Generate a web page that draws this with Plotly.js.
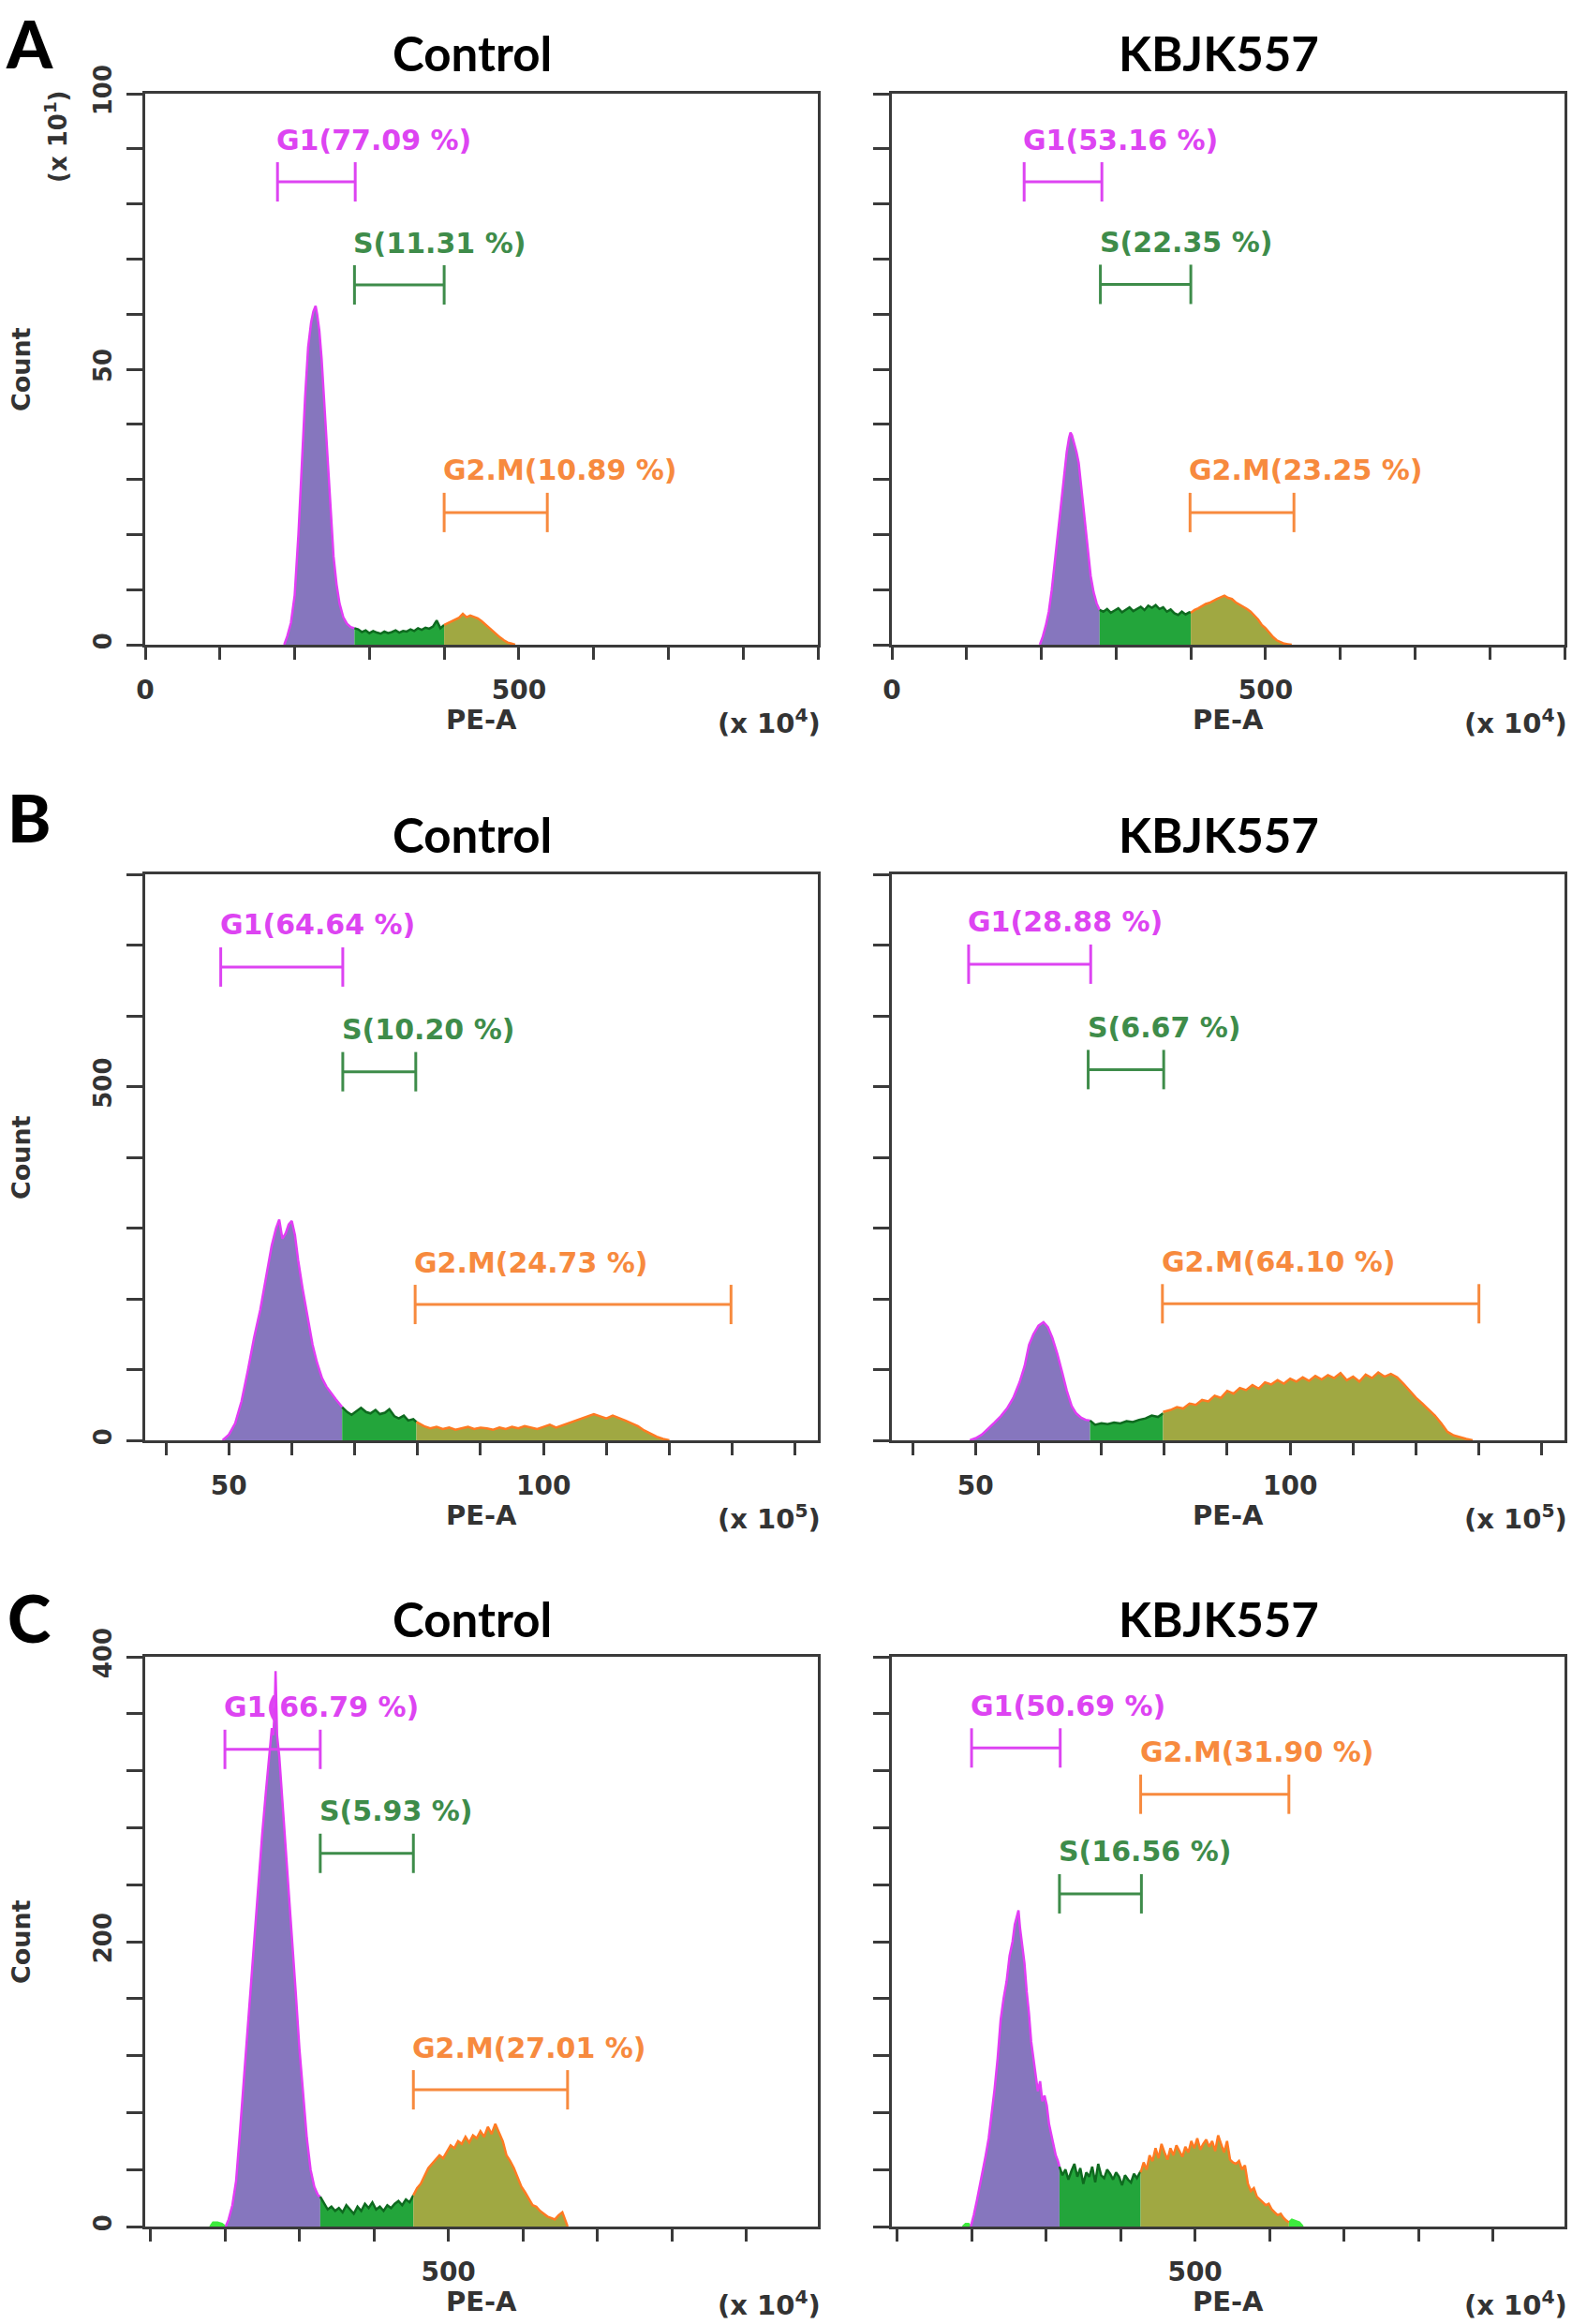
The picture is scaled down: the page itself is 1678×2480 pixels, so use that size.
<!DOCTYPE html>
<html><head><meta charset="utf-8">
<script src="https://cdn.plot.ly/plotly-3.0.1.min.js"></script>
<style>html,body{margin:0;padding:0;background:#fff}</style>
</head><body><div id="chart" style="width:1678px;height:2480px"></div>
<script>
// ---------------- DATA ----------------
const panelTitles = ['Control', 'KBJK557'];
const rowLetters = ['A', 'B', 'C'];
const gateNames = ['G1', 'S', 'G2.M'];
const xScaleLabels = ['(x 10<sup>4</sup>)', '(x 10<sup>5</sup>)', '(x 10<sup>4</sup>)'];
const yScaleLabelA = '(x 10<sup>1</sup>)';

// Row A ticks
const A_xTickVals = [0, 100, 200, 300, 400, 500, 600, 700, 800, 900];
const A_xLabelVals = [0, 500];
const A_xLabelText = ['0', '500'];
const A_yTickVals = [0, 10, 20, 30, 40, 50, 60, 70, 80, 90, 100];
const A_yLabelVals = [0, 50, 100];
const A_yLabelText = ['0', '50', '100'];
// Row B ticks
const B_xTickVals = [40, 50, 60, 70, 80, 90, 100, 110, 120, 130, 140];
const B_xLabelVals = [50, 100];
const B_xLabelText = ['50', '100'];
const B_yTickVals = [0, 100, 200, 300, 400, 500, 600, 700, 800];
const B_yLabelVals = [0, 500];
const B_yLabelText = ['0', '500'];
// Row C ticks
const C_xTickVals = [100, 200, 300, 400, 500, 600, 700, 800, 900];
const C_xLabelVals = [500];
const C_xLabelText = ['500'];
const C_yTickVals = [0, 40, 80, 120, 160, 200, 240, 280, 320, 360, 400];
const C_yLabelVals = [0, 200, 400];
const C_yLabelText = ['0', '200', '400'];

// ---- A Control ----
const aC_g1x = [186, 190, 195, 200, 205, 210, 214, 218, 222, 225, 228, 230, 233, 236, 240, 244, 248, 252, 256, 260, 265, 270, 275, 280];
const aC_g1y = [0, 1.5, 4, 9, 20, 35, 45, 54, 58.5, 60.5, 61.5, 60, 57, 52, 43, 33, 24, 16, 11, 7.5, 5, 3.8, 3.2, 3.0];
const aC_sx = [280, 285, 290, 295, 300, 305, 310, 315, 320, 325, 330, 335, 340, 345, 350, 355, 360, 365, 370, 375, 380, 385, 390, 395, 400];
const aC_sy = [3.0, 2.8, 2.3, 2.6, 2.1, 2.5, 2.2, 2.0, 2.4, 2.1, 2.3, 2.6, 2.2, 2.5, 2.4, 2.8, 2.5, 3.0, 2.7, 3.1, 2.9, 3.3, 4.4, 3.0, 3.6];
const aC_gx = [400, 405, 410, 415, 420, 425, 430, 435, 440, 445, 450, 455, 460, 465, 470, 475, 480, 485, 490, 495];
const aC_gy = [3.6, 3.9, 4.3, 4.6, 4.9, 5.6, 5.0, 5.3, 5.1, 4.8, 4.3, 3.7, 3.0, 2.4, 1.8, 1.3, 0.8, 0.4, 0.2, 0];
const aC_pct = [77.09, 11.31, 10.89];
const aC_gateStart = [177, 280, 400];
const aC_gateEnd = [281, 400, 538];
const aC_gateLevel = [84, 65.3, 24];

// ---- A KBJK557 ----
const aK_g1x = [198, 202, 206, 210, 214, 218, 222, 226, 230, 234, 237, 239, 241, 244, 247, 250, 254, 258, 262, 266, 270, 274, 278];
const aK_g1y = [0, 1.5, 3.5, 6, 10, 15, 21, 26, 31, 35, 37.5, 38.5, 38, 36.5, 35, 33, 28, 22, 17, 12.5, 9.5, 7.5, 6.3];
const aK_sx = [278, 283, 288, 293, 298, 303, 308, 313, 318, 323, 328, 333, 338, 343, 348, 353, 358, 363, 368, 373, 378, 383, 388, 393, 398, 400];
const aK_sy = [6.3, 6.0, 6.5, 5.8, 6.2, 6.6, 5.9, 6.4, 6.8, 6.1, 6.5, 6.9, 6.3, 7.1, 6.7, 7.2, 6.5, 6.8, 6.0, 6.4, 5.7, 5.4, 6.0, 5.5, 5.9, 5.8];
const aK_gx = [400, 405, 410, 415, 420, 425, 430, 435, 440, 445, 450, 455, 460, 465, 470, 475, 480, 485, 490, 495, 500, 505, 510, 515, 520, 525, 530, 535];
const aK_gy = [5.8, 6.3, 6.6, 7.0, 7.4, 7.6, 8.0, 8.3, 8.6, 8.9, 8.5, 8.3, 7.7, 7.3, 7.0, 6.5, 6.0, 5.3, 4.6, 3.6, 3.0, 2.2, 1.4, 0.8, 0.5, 0.2, 0.1, 0];
const aK_pct = [53.16, 22.35, 23.25];
const aK_gateStart = [177, 279, 399];
const aK_gateEnd = [281, 400, 538];
const aK_gateLevel = [84, 65.4, 24];

// ---- B Control ----
const bC_g1x = [49.0, 50.0, 51.0, 52.0, 53.0, 54.0, 55.0, 56.0, 56.8, 57.5, 58.0, 58.5, 59.0, 59.5, 60.0, 60.5, 61.0, 61.7, 62.5, 63.3, 64.0, 64.8, 65.5, 66.3, 67.0, 68.0];
const bC_g1y = [0, 8, 24, 55, 98, 145, 185, 235, 275, 300, 312, 285, 292, 305, 310, 290, 255, 215, 175, 135, 110, 88, 76, 66, 58, 47];
const bC_sx = [68.0, 68.8, 69.5, 70.3, 71.0, 71.8, 72.5, 73.3, 74.0, 74.8, 75.5, 76.3, 77.0, 77.8, 78.5, 79.3, 79.8];
const bC_sy = [47, 40, 36, 42, 46, 40, 38, 43, 37, 39, 44, 34, 31, 35, 28, 30, 26];
const bC_gx = [79.8, 81, 82, 83, 84, 85, 86, 87, 88, 89, 90, 91, 92, 93, 94, 95, 96, 97, 98, 99, 100, 101, 102, 103, 104, 105, 106, 107, 108, 109, 110, 111, 112, 113, 114, 115, 116, 117, 118, 119, 120];
const bC_gy = [26, 20, 17, 19, 16, 18, 15, 17, 19, 16, 18, 17, 15, 18, 16, 19, 17, 20, 18, 16, 19, 22, 18, 21, 25, 27, 30, 33, 37, 34, 31, 35, 32, 28, 24, 20, 14, 9, 5, 2, 0];
const bC_pct = [64.64, 10.20, 24.73];
const bC_gateStart = [48.7, 68.1, 79.6];
const bC_gateEnd = [68.1, 79.7, 129.8];
const bC_gateLevel = [669, 521, 192];

// ---- B KBJK557 ----
const bK_g1x = [49.1, 50.0, 51.0, 52.0, 53.0, 54.0, 55.0, 56.0, 57.0, 57.8, 58.5, 59.2, 60.0, 60.8, 61.5, 62.2, 63.0, 63.8, 64.5, 65.3, 66.0, 66.8, 67.5, 68.2];
const bK_g1y = [0, 3, 8, 16, 25, 34, 45, 60, 82, 105, 135, 150, 162, 167, 160, 145, 122, 95, 70, 48, 38, 32, 29, 28];
const bK_sx = [68.2, 69, 70, 71, 72, 73, 74, 75, 76, 77, 78, 79, 79.8];
const bK_sy = [28, 22, 24, 23, 25, 24, 27, 26, 29, 31, 35, 33, 38];
const bK_gx = [79.8, 81, 82, 83, 84, 85, 86, 87, 88, 89, 90, 91, 92, 93, 94, 95, 96, 97, 98, 99, 100, 101, 102, 103, 104, 105, 106, 107, 108, 109, 110, 111, 112, 113, 114, 115, 116, 117, 118, 119, 120, 121, 122, 123, 124, 125, 126, 127, 128, 129];
const bK_gy = [40, 43, 47, 45, 52, 50, 57, 55, 63, 60, 70, 66, 74, 71, 78, 73, 82, 79, 85, 80, 87, 83, 89, 84, 91, 86, 92, 88, 95, 85, 90, 83, 93, 88, 96, 90, 94, 89, 80, 70, 60, 52, 44, 35, 24, 12, 7, 4, 2, 0];
const bK_pct = [28.88, 6.67, 64.10];
const bK_gateStart = [48.9, 67.9, 79.7];
const bK_gateEnd = [68.3, 79.9, 130.0];
const bK_gateLevel = [673, 524, 193];

// ---- C Control ----
const cC_tailx = [180, 184, 190, 196, 201];
const cC_taily = [0, 3, 3, 2, 0];
const cC_g1x = [201, 205, 210, 215, 220, 225, 230, 235, 240, 245, 250, 255, 260, 263, 265, 267, 268, 270, 273, 277, 281, 285, 290, 295, 300, 305, 310, 315, 320, 325, 328];
const cC_g1y = [0, 5, 15, 32, 65, 100, 135, 170, 205, 245, 275, 305, 335, 350, 345, 365, 390, 345, 330, 300, 272, 245, 205, 165, 125, 92, 62, 40, 28, 22, 21];
const cC_sx = [328, 333, 338, 343, 348, 353, 358, 363, 368, 373, 378, 383, 388, 393, 398, 403, 408, 413, 418, 423, 428, 433, 438, 443, 448, 453];
const cC_sy = [21, 16, 12, 14, 11, 13, 10, 15, 12, 9, 14, 11, 16, 13, 17, 12, 14, 11, 15, 13, 16, 18, 15, 19, 17, 22];
const cC_gx = [453, 458, 463, 468, 473, 478, 483, 488, 493, 498, 503, 508, 513, 518, 523, 528, 533, 538, 543, 548, 553, 558, 563, 568, 573, 578, 583, 588, 593, 598, 603, 608, 613, 618, 623, 628, 633, 638, 643, 648, 653, 658, 660];
const cC_gy = [22, 27, 30, 36, 41, 44, 47, 50, 48, 53, 57, 55, 60, 58, 63, 59, 64, 62, 67, 63, 70, 65, 72, 66, 60, 50, 46, 41, 35, 28, 24, 19, 15, 14, 11, 9, 7, 6, 5, 8, 10, 3, 0];
const cC_pct = [66.79, 5.93, 27.01];
const cC_gateStart = [200, 328, 453];
const cC_gateEnd = [328, 453, 660];
const cC_gateLevel = [335, 262, 96];

// ---- C KBJK557 ----
const cK_tailx = [188, 192, 196, 199];
const cK_taily = [0, 2, 2, 0];
const cK_g1x = [199, 203, 207, 211, 215, 219, 223, 227, 231, 235, 239, 243, 247, 251, 255, 258, 261, 263, 265, 268, 271, 274, 277, 280, 283, 286, 289, 292, 295, 298, 301, 304, 307, 310, 313, 316, 318];
const cK_g1y = [0, 8, 18, 28, 40, 50, 62, 78, 97, 118, 145, 160, 172, 190, 200, 212, 218, 222, 210, 198, 185, 165, 150, 130, 118, 106, 95, 102, 88, 92, 85, 72, 65, 56, 50, 46, 42];
const cK_sx = [318, 322, 326, 330, 334, 338, 342, 346, 350, 354, 358, 362, 366, 370, 374, 378, 382, 386, 390, 394, 398, 402, 406, 410, 414, 418, 422, 427];
const cK_sy = [42, 36, 40, 33, 39, 44, 35, 41, 30, 38, 35, 42, 31, 44, 36, 34, 40, 37, 33, 38, 35, 29, 36, 33, 31, 37, 34, 39];
const cK_gx = [427, 431, 435, 439, 443, 447, 451, 455, 459, 463, 467, 471, 475, 479, 483, 487, 491, 495, 499, 503, 507, 511, 515, 519, 523, 527, 531, 535, 539, 543, 547, 551, 555, 559, 563, 567, 571, 575, 579, 583, 587, 591, 595, 599, 603, 607, 611, 615, 619, 623, 626];
const cK_gy = [38, 45, 40, 50, 46, 55, 48, 58, 52, 47, 55, 50, 57, 53, 49, 56, 52, 60, 55, 62, 54, 58, 61, 56, 60, 53, 64, 58, 52, 60, 47, 45, 44, 46, 40, 43, 30, 25, 27, 21, 19, 17, 15, 16, 12, 10, 8, 9, 6, 4, 3];
const cK_tail2x = [626, 630, 635, 640, 645];
const cK_tail2y = [3, 5, 4, 3, 0];
const cK_pct = [50.69, 16.56, 31.90];
const cK_gateStart = [200, 318, 427];
const cK_gateEnd = [319, 428, 626];
const cK_gateLevel = [336, 233.6, 303.5];

// ---------------- STYLE ----------------
const W = 1678, H = 2480;
const colPx = [[155, 873], [952, 1670]];
const rowPx = [[100, 688], [933, 1537], [1768, 2376]];
const fillCol = ['#8676BE', '#23A53B', '#A0A842'];
const lineCol = ['#E23CF5', '#0E6A1F', '#FF7A22'];
const gateCol = ['#DD44F2', '#3E8C4A', '#F78A3E'];
const tailCol = '#3DEB3D';
const axCol = '#3a3a3a';
const txtFam = 'DejaVu Sans, Verdana, sans-serif';
const txtCol = '#333333';
const xTickFont = {family: txtFam, size: 28, color: txtCol, weight: 700};
const yTickFont = {family: txtFam, size: 26, color: txtCol, weight: 700};
const px = v => v / W;
const py = v => 1 - v / H;

const rowTicks = [
  {xr: [0, 900], xv: A_xTickVals, xlv: A_xLabelVals, xlt: A_xLabelText, yr: [0, 100], yv: A_yTickVals, ylv: A_yLabelVals, ylt: A_yLabelText},
  {xr: [36.7, 143.6], xv: B_xTickVals, xlv: B_xLabelVals, xlt: B_xLabelText, yr: [0, 800], yv: B_yTickVals, ylv: B_yLabelVals, ylt: B_yLabelText},
  {xr: [93, 996], xv: C_xTickVals, xlv: C_xLabelVals, xlt: C_xLabelText, yr: [0, 400], yv: C_yTickVals, ylv: C_yLabelVals, ylt: C_yLabelText}
];

const panels = [
  {g1: [aC_g1x, aC_g1y], s: [aC_sx, aC_sy], g: [aC_gx, aC_gy], pct: aC_pct, gs: aC_gateStart, ge: aC_gateEnd, gl: aC_gateLevel, tails: []},
  {g1: [aK_g1x, aK_g1y], s: [aK_sx, aK_sy], g: [aK_gx, aK_gy], pct: aK_pct, gs: aK_gateStart, ge: aK_gateEnd, gl: aK_gateLevel, tails: []},
  {g1: [bC_g1x, bC_g1y], s: [bC_sx, bC_sy], g: [bC_gx, bC_gy], pct: bC_pct, gs: bC_gateStart, ge: bC_gateEnd, gl: bC_gateLevel, tails: []},
  {g1: [bK_g1x, bK_g1y], s: [bK_sx, bK_sy], g: [bK_gx, bK_gy], pct: bK_pct, gs: bK_gateStart, ge: bK_gateEnd, gl: bK_gateLevel, tails: []},
  {g1: [cC_g1x, cC_g1y], s: [cC_sx, cC_sy], g: [cC_gx, cC_gy], pct: cC_pct, gs: cC_gateStart, ge: cC_gateEnd, gl: cC_gateLevel, tails: [[cC_tailx, cC_taily]]},
  {g1: [cK_g1x, cK_g1y], s: [cK_sx, cK_sy], g: [cK_gx, cK_gy], pct: cK_pct, gs: cK_gateStart, ge: cK_gateEnd, gl: cK_gateLevel, tails: [[cK_tailx, cK_taily], [cK_tail2x, cK_tail2y]]}
];

const traces = [];
const annotations = [];
const layout = {
  width: W, height: H, autosize: false,
  margin: {l: 0, r: 0, t: 0, b: 0},
  paper_bgcolor: '#ffffff', plot_bgcolor: '#ffffff',
  showlegend: false, hovermode: false,
  annotations: annotations
};

panels.forEach((p, i) => {
  const row = Math.floor(i / 2), col = i % 2;
  const n = i + 1;
  const xa = 'x' + (n === 1 ? '' : n), ya = 'y' + (n === 1 ? '' : n);
  const xkey = 'xaxis' + (n === 1 ? '' : n), ykey = 'yaxis' + (n === 1 ? '' : n);
  const rt = rowTicks[row];
  layout[xkey] = {
    domain: [px(colPx[col][0]), px(colPx[col][1])], anchor: ya,
    range: rt.xr, tickmode: 'array', tickvals: rt.xlv, ticktext: rt.xlt,
    ticks: 'outside', ticklen: 13, tickwidth: 3, tickcolor: axCol,
    minor: {tickmode: 'array', tickvals: rt.xv, ticks: 'outside', ticklen: 13, tickwidth: 3, tickcolor: axCol, showgrid: false},
    showline: true, linewidth: 3, linecolor: axCol, mirror: true,
    showgrid: false, zeroline: false, tickfont: xTickFont, ticklabelstandoff: 8
  };
  layout[ykey] = {
    domain: [py(rowPx[row][1]), py(rowPx[row][0])], anchor: xa,
    range: rt.yr, tickmode: 'array', tickvals: rt.ylv, ticktext: rt.ylt,
    showticklabels: col === 0,
    ticks: 'outside', ticklen: 17, tickwidth: 3, tickcolor: axCol,
    minor: {tickmode: 'array', tickvals: rt.yv, ticks: 'outside', ticklen: 17, tickwidth: 3, tickcolor: axCol, showgrid: false},
    showline: true, linewidth: 3, linecolor: axCol, mirror: true,
    showgrid: false, zeroline: false, tickfont: yTickFont, tickangle: -90,
    ticklabelstandoff: 6
  };
  p.tails.forEach(t => traces.push({
    type: 'scatter', mode: 'lines', x: t[0], y: t[1], xaxis: xa, yaxis: ya,
    fill: 'tozeroy', fillcolor: tailCol, line: {color: tailCol, width: 2}
  }));
  [p.g1, p.s, p.g].forEach((d, k) => traces.push({
    type: 'scatter', mode: 'lines', x: d[0], y: d[1], xaxis: xa, yaxis: ya,
    fill: 'tozeroy', fillcolor: fillCol[k], line: {color: lineCol[k], width: 2.5}
  }));
  for (let k = 0; k < 3; k++) {
    traces.push({
      type: 'scatter', mode: 'lines+markers', xaxis: xa, yaxis: ya,
      x: [p.gs[k], p.ge[k]], y: [p.gl[k], p.gl[k]],
      line: {color: gateCol[k], width: 3},
      marker: {symbol: 'line-ns', size: 30, color: gateCol[k], line: {color: gateCol[k], width: 3}}
    });
    annotations.push({
      xref: xa, yref: ya, x: p.gs[k], y: p.gl[k], xanchor: 'left', yanchor: 'middle',
      yshift: 45, xshift: -3, showarrow: false,
      text: gateNames[k] + '(' + p.pct[k].toFixed(2) + ' %)',
      font: {family: txtFam, size: 30, color: gateCol[k], weight: 700}
    });
  }
  // panel title
  const titleY = [57, 890, 1727][row];
  annotations.push({
    xref: 'paper', yref: 'paper', x: px((colPx[col][0] + colPx[col][1]) / 2 - 10), y: py(titleY),
    xanchor: 'center', yanchor: 'middle', showarrow: false, text: panelTitles[col],
    font: {family: 'Lato, Open Sans, sans-serif', size: 51, color: '#000', weight: 700}
  });
  // PE-A
  annotations.push({
    xref: 'paper', yref: 'paper', x: px((colPx[col][0] + colPx[col][1]) / 2), y: py(rowPx[row][1] + 80),
    xanchor: 'center', yanchor: 'middle', showarrow: false, text: 'PE-A',
    font: {family: txtFam, size: 29, color: txtCol, weight: 700}
  });
  // scale label
  annotations.push({
    xref: 'paper', yref: 'paper', x: px(colPx[col][1] + 5), y: py(rowPx[row][1] + 82),
    xanchor: 'right', yanchor: 'middle', showarrow: false, text: xScaleLabels[row],
    font: {family: txtFam, size: 29, color: txtCol, weight: 700}
  });
  if (col === 0) {
    annotations.push({
      xref: 'paper', yref: 'paper', x: px(22), y: py((rowPx[row][0] + rowPx[row][1]) / 2),
      xanchor: 'center', yanchor: 'middle', showarrow: false, text: 'Count', textangle: -90,
      font: {family: txtFam, size: 27, color: txtCol, weight: 700}
    });
    const letterY = [46, 872, 1726][row];
    annotations.push({
      xref: 'paper', yref: 'paper', x: px(31), y: py(letterY),
      xanchor: 'center', yanchor: 'middle', showarrow: false, text: rowLetters[row],
      font: {family: 'Lato, Open Sans, sans-serif', size: 70, color: '#000', weight: 900}
    });
  }
});
annotations.push({
  xref: 'paper', yref: 'paper', x: px(60), y: py(146),
  xanchor: 'center', yanchor: 'middle', showarrow: false, text: yScaleLabelA, textangle: -90,
  font: {family: txtFam, size: 26, color: txtCol, weight: 700}
});

Plotly.newPlot('chart', traces, layout, {staticPlot: true, displayModeBar: false});
</script></body></html>
